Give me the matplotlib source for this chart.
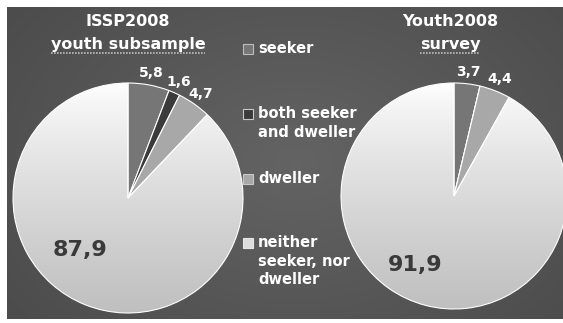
import matplotlib
matplotlib.use('Agg')
import matplotlib.pyplot as plt
import numpy as np
from matplotlib.patches import Rectangle

plt.rcParams['font.family'] = ['DejaVu Sans']
plt.rcParams['font.weight'] = 'bold'

categories = ['seeker', 'both seeker\nand dweller', 'dweller', 'neither\nseeker, nor\ndweller']
issp_values = [5.8, 1.6, 4.7, 87.9]
youth_values = [3.7, 0.0, 4.4, 91.9]
issp_title = ['ISSP2008', 'youth subsample']
youth_title = ['Youth2008', 'survey']

colors = ['#767676', '#3b3b3b', '#a8a8a8', '#dcdcdc']
legend_edges = ['#bdbdbd', '#c8c8c8', '#c8c8c8', '#e6e6e6']

W, H = 563, 323


def fmt(v):
    return f'{v:.1f}'.replace('.', ',')


def background(ax):
    # radial grey shading of the panel
    xs = np.linspace(0, 1, 300)
    ys = np.linspace(0, 1, 200)
    X, Y = np.meshgrid(xs, ys)
    d = np.sqrt(((X - 0.52) / 0.7) ** 2 + ((Y - 0.5) / 0.9) ** 2)
    v = 0.39 - 0.10 * np.clip(d, 0, 1)
    img = np.dstack([v, v, v])
    ax.imshow(img, extent=(7, W, H - 319, H - 7), origin='upper', aspect='auto', zorder=0)


def gradient_fill(ax, wedge, cx, cy, r):
    # white-to-grey shading inside the large slice
    ys = np.linspace(0, 1, 200)[:, None] * np.ones((1, 10))
    v = 1.0 - 0.25 * ys ** 0.8
    img = np.dstack([v, v, v])
    im = ax.imshow(img, extent=(cx - r, cx + r, cy - r, cy + r), origin='upper',
                   aspect='auto', zorder=2)
    im.set_clip_path(wedge)


def draw_pie(ax, values, cx, cy, r, big_pos):
    wedges, _ = ax.pie(values, colors=colors, startangle=90, counterclock=False,
                       center=(cx, cy), radius=r, frame=True,
                       wedgeprops=dict(edgecolor='white', linewidth=0.8))
    for w in wedges:
        w.set_zorder(3)
    wedges[-1].set_facecolor('none')
    gradient_fill(ax, wedges[-1], cx, cy, r)
    for w, v in zip(wedges[:-1], values[:-1]):
        if v == 0:
            continue
        ang = np.deg2rad((w.theta1 + w.theta2) / 2)
        ax.text(cx + (r + 12) * np.cos(ang), cy + (r + 12) * np.sin(ang), fmt(v),
                color='white', fontsize=10, ha='center', va='center', zorder=5)
    ax.text(cx + big_pos[0], cy + big_pos[1], fmt(values[-1]), color='#3a3a3a',
            fontsize=16, ha='center', va='center', zorder=5)


def title(ax, lines, x):
    ax.text(x, H - 22, lines[0], color='white', fontsize=11.5, ha='center', va='center')
    t = ax.text(x, H - 45, lines[1], color='white', fontsize=11.5, ha='center', va='center')
    return t


fig = plt.figure(figsize=(W / 100, H / 100), dpi=100)
ax = fig.add_axes([0, 0, 1, 1])
background(ax)

draw_pie(ax, issp_values, 128, H - 198, 115, (-48, -52))
draw_pie(ax, youth_values, 454, H - 196, 113, (-39, -69))
ax.set_xlim(0, W)
ax.set_ylim(0, H)
ax.set_aspect('auto')
ax.axis('off')

t1 = title(ax, issp_title, 128)
t2 = title(ax, youth_title, 450)

# legend
rows = [49, 114, 179, 243]
for cat, c, e, y in zip(categories, colors, legend_edges, rows):
    ax.add_patch(Rectangle((243, H - y - 5), 10, 10, facecolor=c, edgecolor=e,
                           linewidth=0.8, zorder=4))
    ax.text(258, H - y + 8, cat, color='white', fontsize=10.5, ha='left', va='top',
            linespacing=1.3, zorder=4)

# dotted underline under the second title line
fig.canvas.draw()
inv = ax.transData.inverted()
for t in (t1, t2):
    bb = t.get_window_extent()
    (x0, y0), (x1, y1) = inv.transform([[bb.x0, bb.y0], [bb.x1, bb.y1]])
    ax.plot([x0, x1], [y0, y0], color='#bdbdbd', linewidth=1.2,
            linestyle=(0, (1, 0.8)), zorder=4)

fig.savefig('out.png', dpi=100, facecolor='white')
